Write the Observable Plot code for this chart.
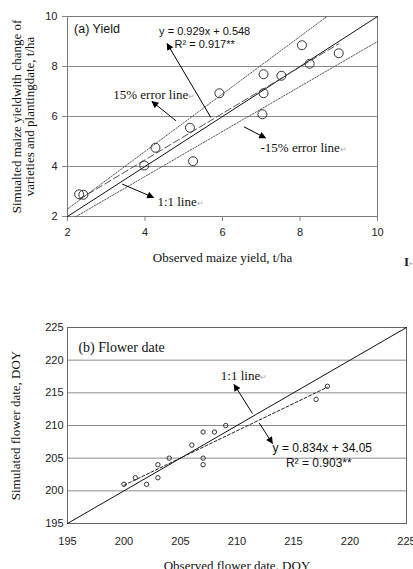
<!DOCTYPE html>
<html><head><meta charset="utf-8">
<script src="https://cdn.jsdelivr.net/npm/d3@7"></script>
<script src="https://cdn.jsdelivr.net/npm/@observablehq/plot@0.6"></script>
<style>
body{margin:0;background:#fff;width:413px;height:569px;overflow:hidden;position:relative}
#top{position:absolute;left:0;top:0}
#bot{position:absolute;left:0;top:280px}
#mark{position:absolute;left:404px;top:254px;font:bold 13px 'Liberation Serif',serif;color:#222}
#mark span{font-size:8px;color:#aaa;font-weight:normal}
</style></head><body>
<div id="top"></div><div id="bot"></div>
<div id="mark">I<span>↵</span></div>
<script>
// ---------- Panel (a): yield ----------
const yieldObserved  = [2.30, 2.41, 3.98, 4.27, 5.16, 5.24, 5.92, 7.03, 7.06, 7.06, 7.52, 8.05, 8.25, 9.00];
const yieldSimulated = [2.89, 2.87, 4.04, 4.75, 5.55, 4.21, 6.93, 6.09, 6.93, 7.69, 7.63, 8.85, 8.11, 8.53];
const yieldTicks = [2, 4, 6, 8, 10];
const yieldFit = [0.929, 0.548];
const yieldR2 = "0.917**";
const errorFactors = [1.15, 0.90];

// ---------- Panel (b): flower date ----------
const flowerObserved  = [200, 201, 202, 203, 203, 204, 206, 207, 207, 207, 208, 209, 217, 218];
const flowerSimulated = [201, 202, 201, 202, 204, 205, 207, 209, 205, 204, 209, 210, 214, 216];
const flowerTicks = [195, 200, 205, 210, 215, 220, 225];
const flowerFit = [0.834, 34.05];
const flowerR2 = "0.903**";

const SANS = "'Liberation Sans', Arial, sans-serif";
const SERIF = "'Liberation Serif', 'Times New Roman', serif";

function pts(xs, ys) { return xs.map((x, i) => ({x, y: ys[i]})); }
function oneToOne(ticks) { const lo = ticks[0], hi = ticks[ticks.length - 1]; return [{x: lo, y: lo}, {x: hi, y: hi}]; }
function fitLine(xs, fit) {
  const a = d3.min(xs), b = d3.max(xs);
  return [{x: a, y: fit[0] * a + fit[1]}, {x: b, y: fit[0] * b + fit[1]}];
}
function errLine(ticks, f) {
  const lo = ticks[0], hi = ticks[ticks.length - 1];
  const x0 = Math.max(lo, lo / f), x1 = Math.min(hi, hi / f);
  return [{x: x0, y: f * x0}, {x: x1, y: f * x1}];
}

function finish(svg, id) {
  const ns = "http://www.w3.org/2000/svg";
  const defs = document.createElementNS(ns, "defs");
  defs.innerHTML = `<marker id="${id}" viewBox="0 0 10 10" refX="9" refY="5" markerWidth="8" markerHeight="7" markerUnits="userSpaceOnUse" orient="auto"><path d="M0,0L10,5L0,10z" fill="#000"/></marker>`;
  svg.insertBefore(defs, svg.firstChild);
  svg.querySelectorAll('g[aria-label="link"] path').forEach(p => p.setAttribute("marker-end", `url(#${id})`));
  svg.querySelectorAll('g[aria-label$="axis tick"]').forEach(g => g.setAttribute("stroke", "#888"));
  svg.querySelectorAll("text").forEach(t => {
    if (t.childElementCount === 0 && t.textContent.includes("↵")) {
      const s = t.textContent.replace("↵", "");
      t.textContent = s;
      const ts = document.createElementNS(ns, "tspan");
      ts.textContent = "↵"; ts.setAttribute("font-size", "8"); ts.setAttribute("fill", "#aaa");
      t.appendChild(ts);
    }
  });
  return svg;
}

// ----- Plot (a) -----
const arrowsA = [
  {x1: 5.70, y1: 5.96, x2: 4.57, y2: 8.92},
  {x1: 4.80, y1: 5.83, x2: 4.18, y2: 6.60},
  {x1: 6.55, y1: 5.59, x2: 7.11, y2: 5.14},
  {x1: 3.41, y1: 3.30, x2: 4.22, y2: 2.76}
];
const plotA = Plot.plot({
  width: 413, height: 280,
  marginLeft: 67, marginRight: 36, marginTop: 16, marginBottom: 64,
  style: {fontFamily: SANS, fontSize: "11px", color: "#222", background: "white", overflow: "visible"},
  x: {domain: [yieldTicks[0], yieldTicks[yieldTicks.length - 1]], ticks: yieldTicks, tickSize: 5, tickPadding: 7, label: null},
  y: {domain: [yieldTicks[0], yieldTicks[yieldTicks.length - 1]], ticks: yieldTicks, tickSize: 5, tickPadding: 5, label: null},
  marks: [
    Plot.ruleY(yieldTicks.slice(1, -1), {stroke: "#8c8c8c", strokeWidth: 1}),
    Plot.frame({stroke: "#7a7a7a"}),
    ...errorFactors.map(f => Plot.line(errLine(yieldTicks, f), {x: "x", y: "y", stroke: "#444", strokeWidth: 0.9, strokeDasharray: "1.5,1.5"})),
    Plot.line(oneToOne(yieldTicks), {x: "x", y: "y", stroke: "#111", strokeWidth: 1}),
    Plot.line(fitLine(yieldObserved, yieldFit), {x: "x", y: "y", stroke: "#555", strokeWidth: 1, strokeDasharray: "7,3"}),
    Plot.dot(pts(yieldObserved, yieldSimulated), {x: "x", y: "y", r: 4.5, stroke: "#333", strokeWidth: 1, fill: "none"}),
    Plot.link(arrowsA, {x1: "x1", y1: "y1", x2: "x2", y2: "y2", stroke: "#000", strokeWidth: 1}),
    Plot.text(["(a) Yield"], {text: d => d, x: 2.17, y: 9.51, textAnchor: "start", fontSize: 12.5, fontFamily: SANS, fill: "#111"}),
    Plot.text([`y = ${yieldFit[0]}x + ${yieldFit[1]}`], {text: d => d, x: 5.54, y: 9.40, fontSize: 11, fontFamily: SANS, fill: "#111"}),
    Plot.text([`R² = ${yieldR2}`], {text: d => d, x: 5.54, y: 8.87, fontSize: 11, fontFamily: SANS, fill: "#111"}),
    Plot.text(["15% error line↵"], {text: d => d, x: 3.18, y: 6.87, textAnchor: "start", fontSize: 13, fontFamily: SERIF, fill: "#111"}),
    Plot.text(["-15% error line↵"], {text: d => d, x: 6.98, y: 4.76, textAnchor: "start", fontSize: 13, fontFamily: SERIF, fill: "#111"}),
    Plot.text(["1:1 line↵"], {text: d => d, x: 4.32, y: 2.59, textAnchor: "start", fontSize: 13, fontFamily: SERIF, fill: "#111"}),
    Plot.text(["Observed maize yield, t/ha"], {text: d => d, frameAnchor: "bottom", textAnchor: "middle", lineAnchor: "middle", dy: 41, fontSize: 13, fontFamily: SERIF, fill: "#111"}),
    Plot.text(["Simualted maize yieldwith change of\nvarieties and plantingdate, t/ha"], {text: d => d, frameAnchor: "left", textAnchor: "middle", lineAnchor: "middle", dx: -44, rotate: -90, lineHeight: 1, fontSize: 13, fontFamily: SERIF, fill: "#111"})
  ]
});
document.getElementById("top").appendChild(finish(plotA, "ahA"));

// ----- Plot (b) -----
const arrowsB = [
  {x1: 211.37, y1: 211.84, x2: 209.74, y2: 216.28},
  {x1: 211.96, y1: 210.40, x2: 213.14, y2: 207.25}
];
const plotB = Plot.plot({
  width: 413, height: 289,
  marginLeft: 67, marginRight: 7, marginTop: 47, marginBottom: 46,
  style: {fontFamily: SANS, fontSize: "11px", color: "#222", background: "white", overflow: "visible"},
  x: {domain: [flowerTicks[0], flowerTicks[flowerTicks.length - 1]], ticks: flowerTicks, tickSize: 0, tickPadding: 14, label: null},
  y: {domain: [flowerTicks[0], flowerTicks[flowerTicks.length - 1]], ticks: flowerTicks, tickSize: 0, tickPadding: 4, label: null},
  marks: [
    Plot.ruleY(flowerTicks.slice(1, -1), {stroke: "#8c8c8c", strokeWidth: 1}),
    Plot.frame({stroke: "#666"}),
    Plot.line(oneToOne(flowerTicks), {x: "x", y: "y", stroke: "#111", strokeWidth: 1}),
    Plot.line(fitLine(flowerObserved, flowerFit), {x: "x", y: "y", stroke: "#222", strokeWidth: 1, strokeDasharray: "3,2"}),
    Plot.dot(pts(flowerObserved, flowerSimulated), {x: "x", y: "y", r: 2.2, stroke: "#333", strokeWidth: 1, fill: "none"}),
    Plot.link(arrowsB, {x1: "x1", y1: "y1", x2: "x2", y2: "y2", stroke: "#000", strokeWidth: 1}),
    Plot.text(["(b) Flower date"], {text: d => d, x: 195.97, y: 221.94, textAnchor: "start", fontSize: 14, fontFamily: SERIF, fill: "#111"}),
    Plot.text(["1:1 line↵"], {text: d => d, x: 208.57, y: 217.55, textAnchor: "start", fontSize: 13, fontFamily: SERIF, fill: "#111"}),
    Plot.text([`y = ${flowerFit[0]}x + ${flowerFit[1]}`], {text: d => d, x: 217.55, y: 206.48, fontSize: 12, fontFamily: SANS, fill: "#111"}),
    Plot.text([`R² = ${flowerR2}`], {text: d => d, x: 217.24, y: 204.18, fontSize: 12, fontFamily: SANS, fill: "#111"}),
    Plot.text(["Observed flower date. DOY"], {text: d => d, frameAnchor: "bottom", textAnchor: "middle", lineAnchor: "middle", dy: 42, fontSize: 13, fontFamily: SERIF, fill: "#111"}),
    Plot.text(["Simulated flower date, DOY"], {text: d => d, frameAnchor: "left", textAnchor: "middle", lineAnchor: "middle", dx: -52, rotate: -90, fontSize: 13, fontFamily: SERIF, fill: "#111"})
  ]
});
document.getElementById("bot").appendChild(finish(plotB, "ahB"));
</script>
</body></html>
